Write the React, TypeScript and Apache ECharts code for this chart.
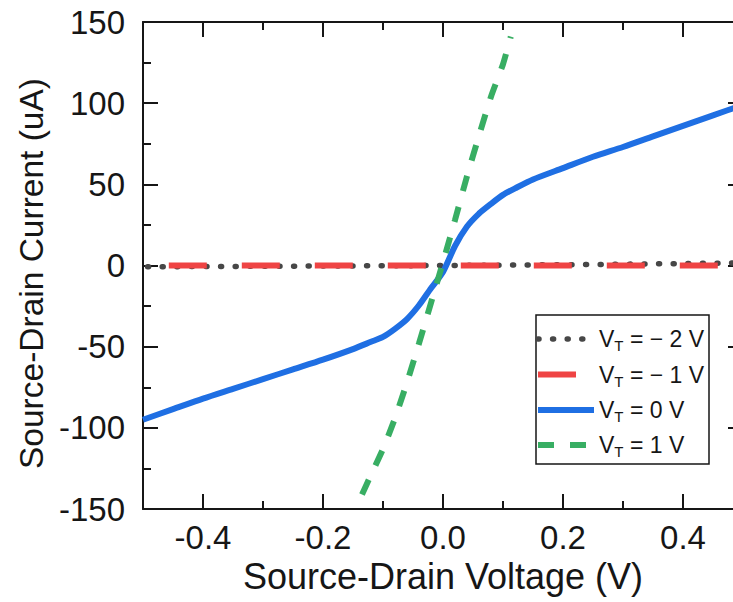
import React, { useEffect, useRef } from "react";
import * as echarts from "echarts";

// ---- tick values ----
const xMajorTicks = [-0.4, -0.2, 0, 0.2, 0.4];
const xMinorTicks = [-0.3, -0.1, 0.1, 0.3];

// ---- series names / legend parts ----
const seriesNames = ["VT = − 2 V", "VT = − 1 V", "VT = 0 V", "VT = 1 V"];
const legendValueText = ["= − 2 V", "= − 1 V", "= 0 V", "= 1 V"];

// ---- V_T = -2 V (gray dotted) ----
const vtNeg2Voltage = [-0.5, -0.25, 0, 0.25, 0.5];
const vtNeg2Current = [-0.8, -0.4, 0, 0.6, 1.6];

// ---- V_T = -1 V (red long dash) ----
const vtNeg1Voltage = [-0.457, -0.2, 0, 0.2, 0.459];
const vtNeg1Current = [0, 0, 0, 0, 0];

// ---- V_T = 0 V (blue solid) ----
const vt0Voltage = [-0.5, -0.45, -0.4, -0.35, -0.3, -0.25, -0.2, -0.15, -0.12, -0.1, -0.08, -0.06, -0.04, -0.02, 0, 0.02, 0.04, 0.06, 0.08, 0.1, 0.12, 0.15, 0.2, 0.25, 0.3, 0.35, 0.4, 0.45, 0.5];
const vt0Current = [-95, -88.5, -82, -76, -70, -64, -58, -51.5, -47, -44, -39, -33, -24.5, -14, -4, 12, 24, 32, 38, 43.5, 47.5, 53, 60, 67, 73, 79.5, 86, 92.5, 99];

// ---- V_T = 1 V (green dashed) ----
const vt1Voltage = [-0.135, -0.12, -0.1, -0.08, -0.06, -0.04, -0.02, 0, 0.02, 0.04, 0.06, 0.08, 0.1, 0.113];
const vt1Current = [-141, -129, -113, -94, -72, -48, -23, 2, 28, 55, 80, 104, 124, 141];

const zip = (xs: number[], ys: number[]) => xs.map((x, i) => [x, ys[i]]);

export default function App() {
  const ref = useRef<HTMLDivElement>(null);

  useEffect(() => {
    if (!ref.current) return;
    const chart = echarts.init(ref.current, null, { renderer: "svg" });
    const font = "'Liberation Sans', Arial, sans-serif";
    const ink = "#161616";
    const lineStyle = { color: ink, width: 2 };

    const seriesStyles = [
      { color: "#474747", width: 5.5, type: [1, 13.6], cap: "round" },
      { color: "#ef4444", width: 6, type: [38, 35], cap: "butt" },
      { color: "#1f6fe3", width: 6, type: "solid", cap: "butt" },
      { color: "#38ae63", width: 6, type: [16, 16], cap: "butt" },
    ];

    const xBase = {
      type: "value",
      min: -0.5,
      max: 0.5,
      gridIndex: 0,
      splitLine: { show: false },
    };

    // legend drawn as graphic (box, sample lines, rich texts)
    const legendLeft = 536;
    const legendTop = 315;
    const legendW = 173;
    const legendH = 149;
    const rowY = [339, 374.5, 410, 445];
    const rich = {
      v: { fontSize: 23, lineHeight: 28, verticalAlign: "middle", fill: ink, fontFamily: font },
      t: { fontSize: 15, lineHeight: 8, verticalAlign: "bottom", fill: ink, fontFamily: font },
    };
    const legendGraphics: any[] = [
      {
        type: "rect",
        z: 100,
        shape: { x: legendLeft, y: legendTop, width: legendW, height: legendH },
        style: { fill: "#ffffff", stroke: ink, lineWidth: 1.5 },
      },
    ];
    seriesNames.forEach((_, i) => {
      const s = seriesStyles[i];
      legendGraphics.push({
        type: "line",
        z: 101,
        shape: { x1: legendLeft + 2, y1: rowY[i], x2: legendLeft + 58, y2: rowY[i] },
        style: {
          stroke: s.color,
          lineWidth: s.width,
          lineDash: Array.isArray(s.type) ? s.type : null,
          lineCap: s.cap,
        },
      });
      legendGraphics.push({
        type: "text",
        z: 101,
        x: legendLeft + 63,
        y: rowY[i],
        style: {
          text: `{v|V}{t|T}{v| ${legendValueText[i]}}`,
          rich,
          fill: ink,
          fontFamily: font,
          verticalAlign: "middle",
          align: "left",
        },
      });
    });

    const option: any = {
      animation: false,
      backgroundColor: "#ffffff",
      grid: {
        left: 143,
        top: 22,
        width: 600,
        height: 487,
        containLabel: false,
        outerBoundsMode: "none",
      },
      xAxis: [
        {
          ...xBase,
          position: "bottom",
          axisLine: { show: true, onZero: false, lineStyle },
          axisTick: { show: true, inside: true, length: 15, customValues: xMajorTicks, lineStyle },
          axisLabel: {
            show: true,
            customValues: xMajorTicks,
            formatter: (v: number) => v.toFixed(1),
            fontSize: 33,
            color: ink,
            fontFamily: font,
            margin: 12,
          },
          name: "Source-Drain Voltage (V)",
          nameLocation: "middle",
          nameGap: 46,
          nameTextStyle: { fontSize: 36, color: ink, fontFamily: font },
        },
        {
          ...xBase,
          position: "bottom",
          axisLine: { show: false, onZero: false },
          axisTick: { show: true, inside: true, length: 8, customValues: xMinorTicks, lineStyle },
          axisLabel: { show: false },
        },
        {
          ...xBase,
          position: "top",
          axisLine: { show: true, onZero: false, lineStyle },
          axisTick: { show: true, inside: true, length: 15, customValues: xMajorTicks, lineStyle },
          axisLabel: { show: false },
        },
        {
          ...xBase,
          position: "top",
          axisLine: { show: false, onZero: false },
          axisTick: { show: true, inside: true, length: 8, customValues: xMinorTicks, lineStyle },
          axisLabel: { show: false },
        },
      ],
      yAxis: [
        {
          type: "value",
          min: -150,
          max: 150,
          interval: 50,
          position: "left",
          axisLine: { show: true, onZero: false, lineStyle },
          axisTick: { show: true, inside: true, length: 15, lineStyle },
          minorTick: { show: true, splitNumber: 2, length: 8, lineStyle },
          axisLabel: { fontSize: 33, margin: 18, color: ink, fontFamily: font },
          splitLine: { show: false },
          name: "Source-Drain Current (uA)",
          nameLocation: "middle",
          nameGap: 92,
          nameTextStyle: { fontSize: 33.5, color: ink, fontFamily: font, padding: [0, 16, 0, 0] },
        },
        {
          type: "value",
          min: -150,
          max: 150,
          interval: 50,
          position: "right",
          axisLine: { show: true, onZero: false, lineStyle },
          axisTick: { show: true, inside: true, length: 15, lineStyle },
          minorTick: { show: true, splitNumber: 2, length: 8, lineStyle },
          axisLabel: { show: false },
          splitLine: { show: false },
        },
      ],
      legend: { show: false },
      graphic: legendGraphics,
      series: [
        {
          type: "line",
          name: seriesNames[0],
          data: zip(vtNeg2Voltage, vtNeg2Current),
          symbol: "none",
          lineStyle: { ...seriesStyles[0], dashOffset: 10 },
          itemStyle: { color: seriesStyles[0].color },
          z: 2,
        },
        {
          type: "line",
          name: seriesNames[1],
          data: zip(vtNeg1Voltage, vtNeg1Current),
          symbol: "none",
          lineStyle: seriesStyles[1],
          itemStyle: { color: seriesStyles[1].color },
          z: 3,
        },
        {
          type: "line",
          name: seriesNames[2],
          data: zip(vt0Voltage, vt0Current),
          symbol: "none",
          smooth: 0.25,
          lineStyle: seriesStyles[2],
          itemStyle: { color: seriesStyles[2].color },
          z: 4,
        },
        {
          type: "line",
          name: seriesNames[3],
          data: zip(vt1Voltage, vt1Current),
          symbol: "none",
          smooth: 0.2,
          lineStyle: seriesStyles[3],
          itemStyle: { color: seriesStyles[3].color },
          z: 5,
        },
      ],
    };

    chart.setOption(option);
    return () => chart.dispose();
  }, []);

  return (
    <div
      style={{
        position: "fixed",
        left: 0,
        top: 0,
        width: 733,
        height: 602,
        overflow: "hidden",
        background: "#ffffff",
      }}
    >
      <div ref={ref} style={{ width: 770, height: 602 }} />
    </div>
  );
}
